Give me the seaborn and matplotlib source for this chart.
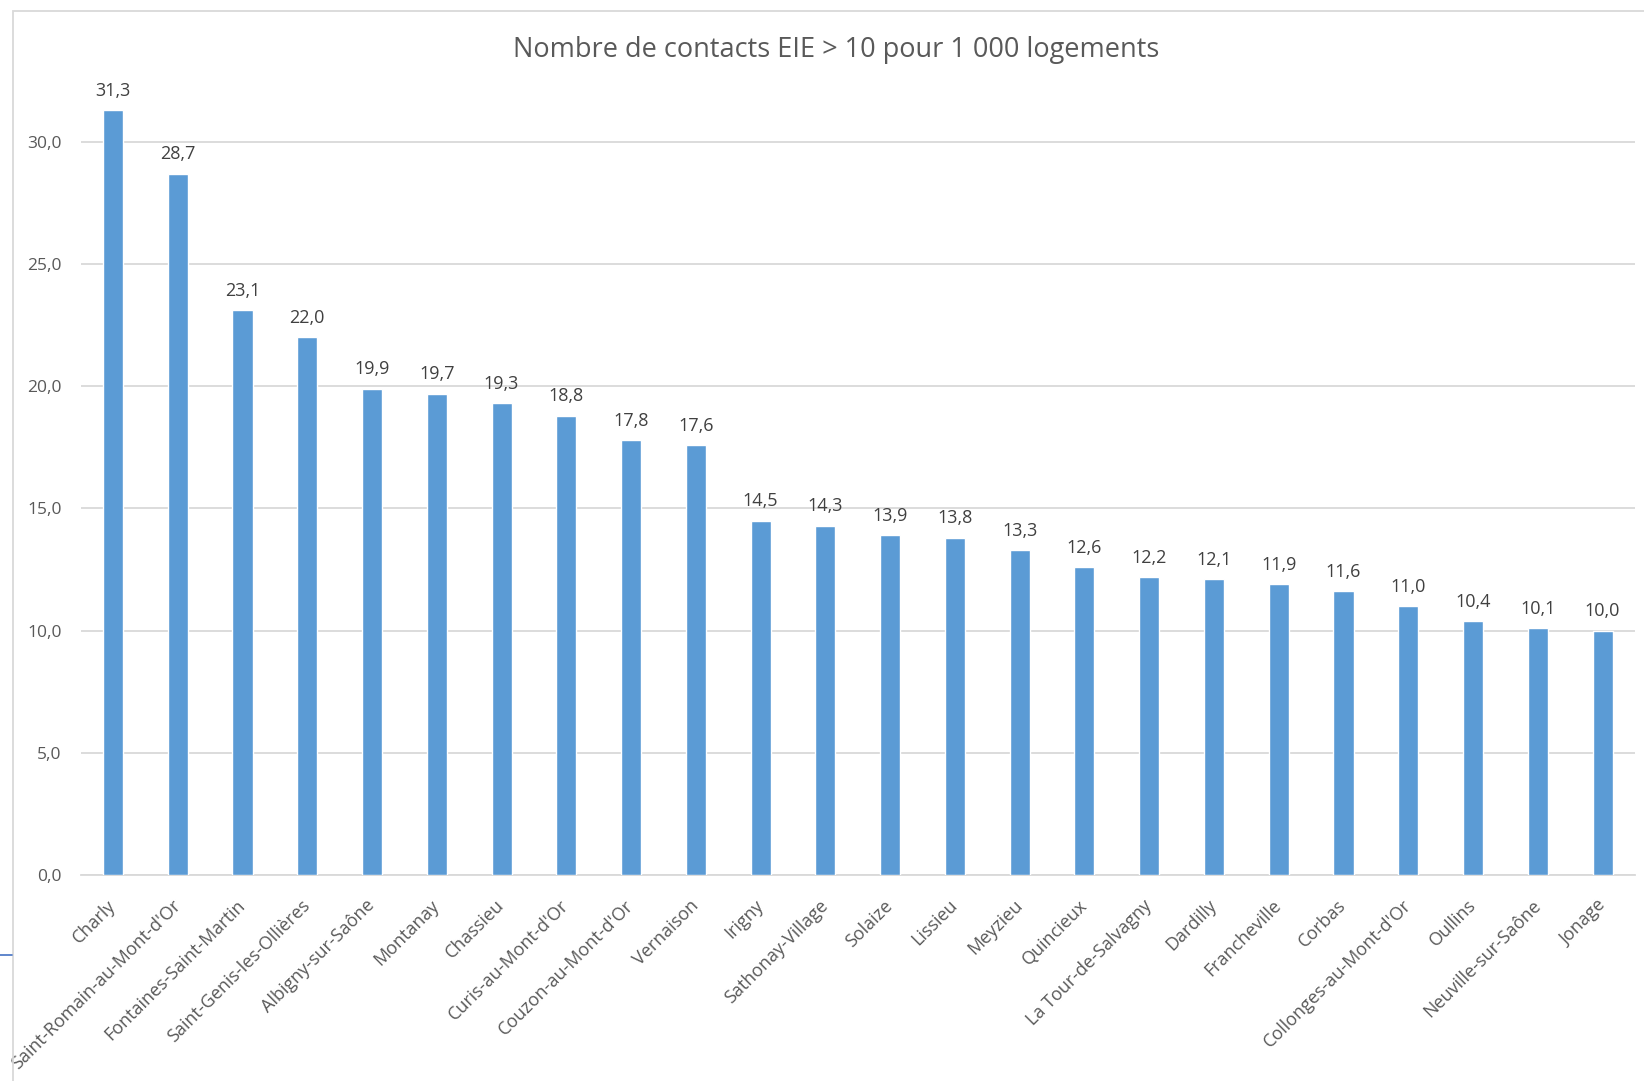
import numpy as np
import pandas as pd
import matplotlib
matplotlib.use("Agg")
import matplotlib.pyplot as plt
import seaborn as sns
from matplotlib.patches import Rectangle
from matplotlib.lines import Line2D

communes = ["Charly", "Saint-Romain-au-Mont-d'Or", "Fontaines-Saint-Martin",
            "Saint-Genis-les-Ollières", "Albigny-sur-Saône", "Montanay", "Chassieu",
            "Curis-au-Mont-d'Or", "Couzon-au-Mont-d'Or", "Vernaison", "Irigny",
            "Sathonay-Village", "Solaize", "Lissieu", "Meyzieu", "Quincieux",
            "La Tour-de-Salvagny", "Dardilly", "Francheville", "Corbas",
            "Collonges-au-Mont-d'Or", "Oullins", "Neuville-sur-Saône", "Jonage"]
valeurs = [31.3, 28.7, 23.1, 22.0, 19.9, 19.7, 19.3, 18.8, 17.8, 17.6, 14.5,
           14.3, 13.9, 13.8, 13.3, 12.6, 12.2, 12.1, 11.9, 11.6, 11.0, 10.4, 10.1, 10.0]
yticks = [0, 5, 10, 15, 20, 25, 30]

df = pd.DataFrame({"commune": communes, "valeur": valeurs})

sns.set_theme(style="white")
plt.rcParams["font.family"] = ["Open Sans", "DejaVu Sans"]

txt = "#404040"
fig = plt.figure(figsize=(16.44, 10.81), dpi=100)
ax = fig.add_axes([0.049, 0.1906, 0.9455, 0.7686])

sns.barplot(data=df, x="commune", y="valeur", color="#5B9BD5", saturation=1,
            width=0.31, ax=ax, zorder=3)

# étiquettes de données, virgule décimale
for i, v in enumerate(valeurs):
    ax.text(i, v + 0.42, f"{v:.1f}".replace(".", ","), ha="center", va="bottom",
            fontsize=13, color=txt)

ax.set_ylim(0, 34)
ax.set_xlim(-0.5, len(communes) - 0.5)
ax.set_yticks(yticks)
ax.set_yticklabels([f"{t:.1f}".replace(".", ",") for t in yticks], fontsize=12.5, color="#595959")
ax.yaxis.grid(True, color="#D9D9D9", linewidth=1.3, zorder=0)
ax.tick_params(axis="both", length=0)
ax.tick_params(axis="y", pad=13.5)
ax.set_xticks(range(len(communes)))
ax.set_xticklabels(communes, rotation=45, ha="right", va="center", rotation_mode="anchor",
                   fontsize=13, color="#595959")
ax.tick_params(axis="x", pad=20)
for s in ["top", "right", "left"]:
    ax.spines[s].set_visible(False)
ax.spines["bottom"].set_color("#D9D9D9")
ax.spines["bottom"].set_linewidth(1.3)
ax.set_xlabel("")
ax.set_ylabel("")

fig.text(836 / 1644, 1 - 50 / 1081, "Nombre de contacts EIE > 10 pour 1 000 logements",
         ha="center", va="center", fontsize=19.5, color="#595959")

# cadre du graphique (capture recadrée)
fig.add_artist(Rectangle((13 / 1644, -0.01), 1.02, 1 - 11 / 1081 + 0.01,
                         transform=fig.transFigure, fill=False,
                         edgecolor="#D9D9D9", linewidth=1.3))
fig.add_artist(Line2D([0, 12 / 1644], [1 - 955 / 1081] * 2, transform=fig.transFigure,
                      color="#4472C4", linewidth=1.2))

fig.savefig("out.png", dpi=100)
